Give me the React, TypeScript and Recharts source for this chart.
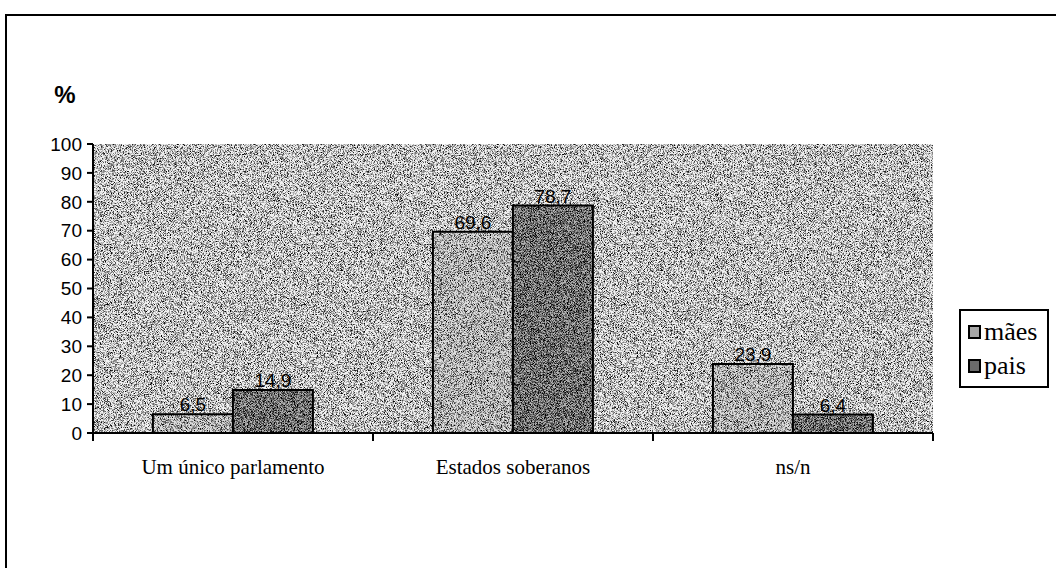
import React from 'react';
import { BarChart, Bar, XAxis, YAxis, CartesianGrid, LabelList } from 'recharts';

const categories = ['Um único parlamento', 'Estados soberanos', 'ns/n'];
const maesValues = [6.5, 69.6, 23.9];
const paisValues = [14.9, 78.7, 6.4];
const yTicks = [0, 10, 20, 30, 40, 50, 60, 70, 80, 90, 100];
const seriesNames = ['mães', 'pais'];

const data = categories.map((c, i) => ({ name: c, maes: maesValues[i], pais: paisValues[i] }));

const SERIF = '"Liberation Serif", "Times New Roman", serif';
const SANS = '"Liberation Sans", Arial, sans-serif';

const fmt = (v: any) => String(v).replace('.', ',');

const CatTick = (props: any) => {
  const { x, y, payload, index } = props;
  const half = payload && payload.offset ? payload.offset : 140;
  return (
    <g>
      <line x1={x - half} y1={y - 8} x2={x - half} y2={y} stroke="#000" strokeWidth={2} />
      {index === categories.length - 1 && (
        <line x1={x + half} y1={y - 8} x2={x + half} y2={y} stroke="#000" strokeWidth={2} />
      )}
      <text x={x} y={y + 33} textAnchor="middle" fontFamily={SERIF} fontSize={21} fill="#000">
        {payload.value}
      </text>
    </g>
  );
};

const Patterns = () => (
  <svg width={1} height={1} style={{ position: 'absolute', left: 0, top: 0 }}>
    <defs>
      <filter id="noiseA" x="0" y="0" width="1" height="1">
        <feTurbulence type="fractalNoise" baseFrequency="1.3" numOctaves={2} seed={4} />
        <feColorMatrix type="matrix" values="0 0 0 0 0  0 0 0 0 0  0 0 0 0 0  3 0 0 0 -1.3" />
      </filter>
      <filter id="noiseB" x="0" y="0" width="1" height="1">
        <feTurbulence type="fractalNoise" baseFrequency="1.3" numOctaves={2} seed={9} />
        <feColorMatrix type="matrix" values="0 0 0 0 0  0 0 0 0 0  0 0 0 0 0  3 0 0 0 -1.1" />
      </filter>
      <pattern id="bgPat" patternUnits="userSpaceOnUse" width={320} height={320}>
        <rect width={320} height={320} fill="#f2f2f2" />
        <rect width={320} height={320} fill="#333" filter="url(#noiseA)" />
      </pattern>
      <pattern id="maesPat" patternUnits="userSpaceOnUse" width={320} height={320}>
        <rect width={320} height={320} fill="#dedede" />
        <rect width={320} height={320} fill="#333" filter="url(#noiseA)" />
      </pattern>
      <pattern id="paisPat" patternUnits="userSpaceOnUse" width={320} height={320}>
        <rect width={320} height={320} fill="#b4b4b4" />
        <rect width={320} height={320} fill="#222" filter="url(#noiseB)" />
      </pattern>
    </defs>
  </svg>
);

const LegendBox = () => (
  <div
    style={{
      position: 'absolute',
      left: 959,
      top: 309,
      width: 90,
      height: 79,
      border: '2px solid #000',
      background: '#fff',
      padding: '4px 4px 0 7px',
      fontFamily: SERIF,
      fontSize: 26,
      lineHeight: '34px',
      boxSizing: 'border-box',
    }}
  >
    {seriesNames.map((label, i) => (
      <div key={label} style={{ display: 'flex', alignItems: 'center' }}>
        <span
          style={{
            display: 'inline-block',
            width: 9,
            height: 10,
            background: i === 0 ? '#a8a8a8' : '#6a6a6a',
            border: '2px solid #000',
            marginRight: 3,
          }}
        />
        {label}
      </div>
    ))}
  </div>
);

export default function App() {
  return (
    <div style={{ position: 'absolute', left: 0, top: 0, width: 1056, height: 568, background: '#fff', overflow: 'hidden' }}>
      <Patterns />
      <div
        style={{
          position: 'absolute',
          left: 5,
          top: 14,
          width: 1060,
          height: 560,
          borderTop: '2px solid #000',
          borderLeft: '2px solid #000',
        }}
      />
      <BarChart
        width={1056}
        height={568}
        data={data}
        margin={{ top: 144, right: 123, bottom: 95, left: 33 }}
        barCategoryGap="21.4%"
        barGap={0}
      >
        <CartesianGrid fill="url(#bgPat)" stroke="none" horizontal={false} vertical={false} />
        <XAxis
          dataKey="name"
          height={40}
          axisLine={{ stroke: '#000', strokeWidth: 2 }}
          tickLine={false}
          tick={<CatTick />}
          interval={0}
        />
        <YAxis
          width={60}
          domain={[0, 100]}
          ticks={yTicks}
          interval={0}
          axisLine={{ stroke: '#000', strokeWidth: 2 }}
          tickLine={{ stroke: '#000', strokeWidth: 2 }}
          tickSize={6}
          tickMargin={5}
          tick={{ fill: '#000', fontFamily: SANS, fontSize: 19 }}
          label={{
            value: '%',
            position: 'top',
            offset: 41,
            dx: 2,
            style: { fontFamily: SANS, fontSize: 24, fontWeight: 'bold', fill: '#000' },
          }}
        />
        <Bar dataKey="maes" name={seriesNames[0]} fill="url(#maesPat)" stroke="#000" strokeWidth={2} isAnimationActive={false}>
          <LabelList
            dataKey="maes"
            position="top"
            offset={3}
            formatter={fmt}
            style={{ fontFamily: SANS, fontSize: 19, fill: '#000' }}
          />
        </Bar>
        <Bar dataKey="pais" name={seriesNames[1]} fill="url(#paisPat)" stroke="#000" strokeWidth={2} isAnimationActive={false}>
          <LabelList
            dataKey="pais"
            position="top"
            offset={3}
            formatter={fmt}
            style={{ fontFamily: SANS, fontSize: 19, fill: '#000' }}
          />
        </Bar>
      </BarChart>
      <LegendBox />
    </div>
  );
}
